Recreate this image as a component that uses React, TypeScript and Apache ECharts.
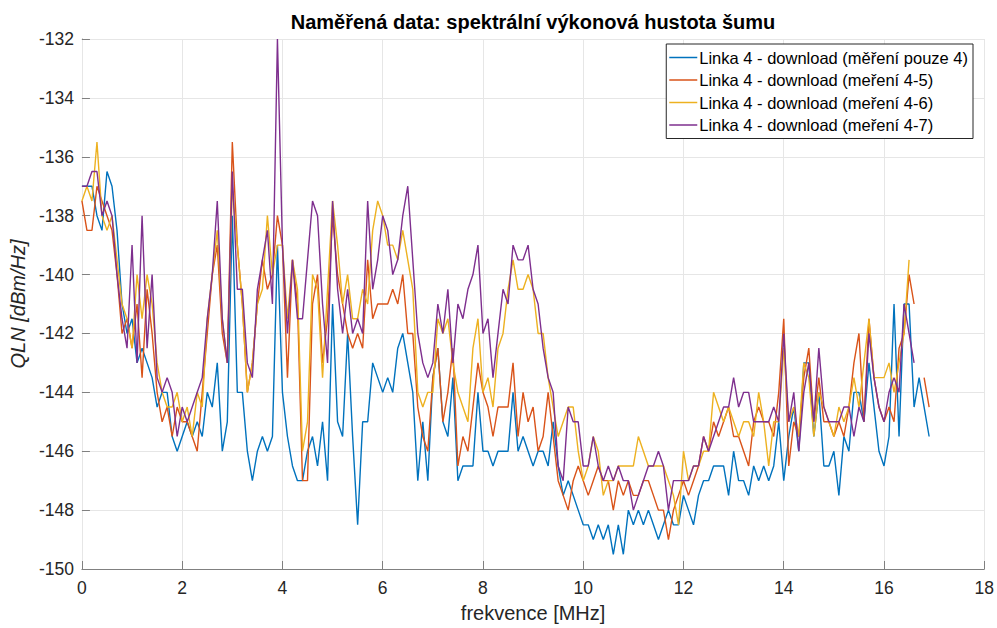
import React, { useEffect, useRef } from "react";
import * as echarts from "echarts";

const TITLE = "Naměřená data: spektrální výkonová hustota šumu";
const X_NAME = "frekvence [MHz]";
const Y_NAME = "QLN [dBm/Hz]";
const SERIES_NAMES = [
  "Linka 4 - download (měření pouze 4)",
  "Linka 4 - download (meření 4-5)",
  "Linka 4 - download (meření 4-6)",
  "Linka 4 - download (meření 4-7)",
];
const COLORS = ["#0072BD", "#D95319", "#EDB120", "#7E2F8E"];

// frequency grid step in MHz (samples start at 0 MHz)
const FREQ_STEP = 0.1;

const blue = [
  -137, -137, -137, -138, -138.5, -136.5, -137, -138.5, -141, -142,
  -141.5, -143, -142.5, -143, -143.5, -144.5, -144, -144, -145.5, -146,
  -145.5, -145, -145.5, -145, -145.5, -144, -144.5, -143, -146, -145,
  -138, -144, -144, -146, -147, -146, -145.5, -146, -145.5, -139,
  -144, -145.5, -146.5, -147, -147, -146, -145.5, -146.5, -145, -147,
  -141, -145, -145.5, -142, -145.5, -148.5, -145, -145, -143, -143.5,
  -144, -143.5, -144, -142.5, -142, -143, -144, -147, -145, -147,
  -143.5, -142.5, -145, -145.5, -143.5, -147, -146.5, -146.5, -146.5, -144,
  -146, -146, -146.5, -146, -146, -146, -144, -146, -145.5, -146,
  -146.5, -146, -146, -146.5, -145, -146.5, -147.5, -147, -147.5, -148,
  -148.5, -148.5, -149, -148.5, -149, -148.5, -149.5, -148.5, -149.5, -148,
  -148.5, -148, -148.5, -148, -148.5, -149, -148.5, -148, -148.5, -148.5,
  -147.5, -148, -148.5, -147.5, -147, -147, -146.5, -146.5, -146.5, -147.5,
  -146, -147, -147, -147.5, -146.5, -147, -146.5, -147, -146.5, -145,
  -147, -145.5, -144.5, -146, -143, -143, -145.5, -144, -146.5, -146.5,
  -146, -147.5, -145.5, -146, -144, -144, -145, -143, -144.5, -146,
  -146.5, -145.5, -141, -145.5, -141, -141, -144.5, -143.5, -144.5, -145.5,
];

const orange = [
  -137.5, -138.5, -138.5, -137, -137.5, -138, -138.5, -140, -142, -141.5,
  -142.5, -141, -143.5, -140.5, -142, -144, -145, -144.5, -145.5, -144.5,
  -145, -145, -145.5, -146, -144, -142, -140, -139, -142, -143,
  -135.5, -139, -141, -144, -143, -141, -139.5, -140.5, -140, -138,
  -139, -143.5, -139.5, -141, -147, -147, -141, -140, -143, -141.5,
  -138, -140, -141, -142, -142.5, -142, -142.5, -139.5, -141.5, -141,
  -141, -141, -140.5, -141, -140, -142, -142, -144.5, -145.5, -146,
  -143.5, -142.5, -145, -144, -142.5, -146.5, -145.5, -146, -144.5, -143,
  -144, -144.5, -145.5, -144.5, -144.5, -144.5, -143, -145.5, -144, -145,
  -144.5, -146, -145.5, -144, -145.5, -147, -147.5, -148, -147, -146.5,
  -147, -147.5, -147, -146.5, -147, -147, -148, -147, -147.5, -147,
  -147.5, -147.5, -147, -147, -147.5, -148, -148, -149, -148, -147.5,
  -147, -147.5, -147, -146.5, -145.5, -146, -145, -145.5, -145, -144.5,
  -145.5, -145.5, -146, -146.5, -145, -144.5, -145, -145, -145.5, -144,
  -141.5, -146.5, -145, -145.5, -143.5, -142.5, -145, -143.5, -145, -145,
  -145.5, -145, -145.5, -144.5, -143, -142, -145, -141.5, -143.5, -144.5,
  -145, -144.5, -145, -142.5, -142, -140, -141, null, -143.5, -144.5,
];

const yellow = [
  -137.5, -137, -137.5, -135.5, -138, -138.5, -138, -139.5, -141, -141.5,
  -142.5, -140, -141.5, -140, -141, -143, -144, -144.5, -144.5, -144,
  -145, -144.5, -145.5, -144, -144.5, -141.5, -140, -138.5, -141.5, -143,
  -137, -139, -141, -144, -143, -141, -140.5, -138, -140, -139,
  -139, -141.5, -139.5, -140.5, -146, -145, -140, -140.5, -143.5, -140.5,
  -137.5, -139, -141, -140, -141.5, -141.5, -140.5, -141, -138.5, -137.5,
  -138, -139, -139, -139.5, -138.5, -139.5, -140.5, -144, -144.5, -144,
  -144, -141.5, -142, -141.5, -143, -144, -144.5, -145, -142.5, -141.5,
  -144, -143.5, -144.5, -142.5, -142, -140.5, -139.5, -140.5, -140.5, -140,
  -140.5, -142, -142, -143.5, -144.5, -145.5, -145, -144.5, -144.5, -146,
  -147, -146.5, -145.5, -146, -147.5, -147, -147, -146.5, -146.5, -146.5,
  -146.5, -145.5, -146, -146.5, -146.5, -146.5, -146.5, -147, -147.5, -148.5,
  -146, -147, -146.5, -146.5, -146, -146, -144, -144.5, -145, -144.5,
  -145, -145.5, -145, -145, -145.5, -144, -145, -146.5, -145, -145,
  -142.5, -145, -144.5, -145.5, -143, -143.5, -145.5, -144, -144.5, -145,
  -145.5, -144.5, -145, -144.5, -143.5, -144.5, -143, -141.5, -143.5, -143.5,
  -143.5, -143, -144, -143, -142, -139.5,
];

const purple = [
  -137, -137, -136.5, -136.5, -138, -137.5, -138, -140, -141.5, -142.5,
  -139, -143, -138, -142.5, -140, -143.5, -144, -143.5, -144, -145.5,
  -144.5, -145, -144.5, -144, -143.5, -141.5, -140, -137.5, -141.5, -143,
  -136.5, -140.5, -140.5, -143, -143.5, -140.5, -139.5, -138.5, -141, -132,
  -139, -142, -139.5, -141.5, -141.5, -139.5, -137.5, -138, -141, -143,
  -137.5, -140.5, -142, -140.5, -142, -141.5, -142, -137.5, -140.5, -139.5,
  -138, -138.5, -140, -139.5, -138, -137, -139.5, -142, -143, -143.5,
  -143, -141, -142, -140.5, -143, -141, -141.5, -140.5, -140, -139,
  -142, -141.5, -143.5, -142, -140.5, -141, -139, -139.5, -139.5, -139,
  -140.5, -141, -142.5, -143.5, -144, -146.5, -147, -144.5, -145, -145,
  -146.5, -146.5, -145.5, -146.5, -147, -146.5, -147, -146.5, -147, -147,
  -148, -147.5, -147, -146.5, -146.5, -146, -146.5, -148, -147, -147,
  -147, -147, -146.5, -146.5, -145.5, -146, -145.5, -145, -144.5, -144.5,
  -143.5, -144.5, -144, -144, -145, -145, -145, -145, -144.5, -145,
  -142, -145, -144, -146, -144, -143, -145, -142.5, -144.5, -145,
  -145, -145, -144.5, -144.5, -145.5, -144.5, -145, -142, -143.5, -144.5,
  -145, -144, -143.5, -144, -141, -142, -143,
];

const SERIES_VALUES = [blue, orange, yellow, purple];

const X_MIN = 0;
const X_MAX = 18;
const X_INTERVAL = 2;
const Y_MIN = -150;
const Y_MAX = -132;
const Y_INTERVAL = 2;

const FONT = "'Liberation Sans', Arial, Helvetica, sans-serif";
const TEXT_COLOR = "#262626";
const AXIS_COLOR = "#808080";
const GRID_COLOR = "#e6e6e6";

export default function App() {
  const ref = useRef<HTMLDivElement>(null);

  useEffect(() => {
    if (!ref.current) return;
    const chart = echarts.init(ref.current, undefined, { renderer: "svg" });

    const series = SERIES_VALUES.map((vals, si) => ({
      name: SERIES_NAMES[si],
      type: "line",
      data: vals.map((v, i) => [Math.round(i * FREQ_STEP * 100) / 100, v]),
      showSymbol: false,
      symbol: "none",
      connectNulls: false,
      lineStyle: { width: 1.4, color: COLORS[si] },
      itemStyle: { color: COLORS[si] },
      xAxisIndex: 0,
      yAxisIndex: 0,
      z: 2 + si,
    }));

    const baseX = {
      type: "value",
      min: X_MIN,
      max: X_MAX,
      interval: X_INTERVAL,
    };
    const baseY = {
      type: "value",
      min: Y_MIN,
      max: Y_MAX,
      interval: Y_INTERVAL,
    };

    chart.setOption({
      animation: false,
      backgroundColor: "#ffffff",
      title: {
        text: TITLE,
        left: 528,
        top: 7,
        textAlign: "center",
        textStyle: {
          fontFamily: FONT,
          fontSize: 20,
          fontWeight: "bold",
          color: "#000000",
        },
      },
      grid: {
        left: 80,
        right: 12,
        top: 39,
        bottom: 59,
        show: false,
      },
      legend: {
        orient: "vertical",
        right: 24,
        top: 44,
        data: SERIES_NAMES,
        icon: "rect",
        itemWidth: 28,
        itemHeight: 1.5,
        itemGap: 5.5,
        padding: [5, 5, 5, 3],
        backgroundColor: "#ffffff",
        borderColor: TEXT_COLOR,
        borderWidth: 1,
        borderRadius: 0,
        textStyle: {
          fontFamily: FONT,
          fontSize: 16.5,
          color: "#000000",
          padding: [0, 0, 0, -3],
        },
      },
      xAxis: [
        {
          ...baseX,
          position: "bottom",
          name: X_NAME,
          nameLocation: "middle",
          nameGap: 34,
          nameTextStyle: { fontFamily: FONT, fontSize: 20, color: TEXT_COLOR },
          axisLine: { show: true, lineStyle: { color: AXIS_COLOR } },
          axisTick: { show: true, inside: true, length: 8, lineStyle: { color: AXIS_COLOR } },
          axisLabel: { fontFamily: FONT, fontSize: 17.5, color: TEXT_COLOR, margin: 10 },
          splitLine: { show: true, lineStyle: { color: GRID_COLOR, width: 1 } },
        },
        {
          ...baseX,
          position: "top",
          axisLine: { show: true, lineStyle: { color: GRID_COLOR } },
          axisTick: { show: false },
          axisLabel: { show: false },
          splitLine: { show: false },
        },
      ],
      yAxis: [
        {
          ...baseY,
          position: "left",
          name: Y_NAME,
          nameLocation: "middle",
          nameGap: 47,
          nameRotate: 90,
          nameTextStyle: {
            fontFamily: FONT,
            fontSize: 20,
            fontStyle: "italic",
            color: TEXT_COLOR,
          },
          axisLine: { show: true, lineStyle: { color: AXIS_COLOR } },
          axisTick: { show: true, inside: true, length: 8, lineStyle: { color: AXIS_COLOR } },
          axisLabel: { fontFamily: FONT, fontSize: 17.5, color: TEXT_COLOR, margin: 8 },
          splitLine: { show: true, lineStyle: { color: GRID_COLOR, width: 1 } },
        },
        {
          ...baseY,
          position: "right",
          axisLine: { show: true, lineStyle: { color: GRID_COLOR } },
          axisTick: { show: false },
          axisLabel: { show: false },
          splitLine: { show: false },
        },
      ],
      series,
    });

    return () => {
      chart.dispose();
    };
  }, []);

  return (
    <div
      ref={ref}
      style={{ position: "fixed", left: 0, top: 0, width: 997, height: 628, background: "#fff" }}
    />
  );
}
